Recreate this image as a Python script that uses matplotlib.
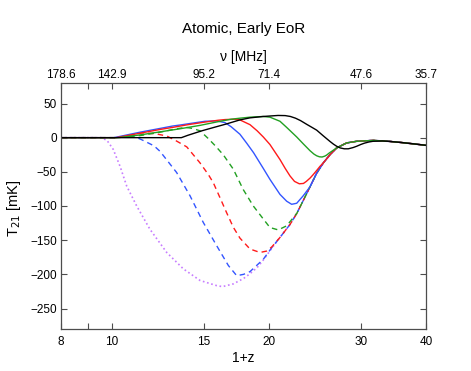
import matplotlib
matplotlib.use('Agg')
import matplotlib.pyplot as plt
from matplotlib.ticker import FixedLocator, FixedFormatter, NullLocator

plt.rcParams['font.family'] = ['Liberation Sans', 'DejaVu Sans']

# eje inferior (1+z) y eje superior (frecuencia)
xticks = [8, 9, 10, 15, 20, 30, 40]
xticklabels = ['8', '', '10', '15', '20', '30', '40']
nu_labels = ['178.6', '', '142.9', '95.2', '71.4', '47.6', '35.7']
yticks = [-250, -200, -150, -100, -50, 0, 50]

# cola comun a todas las curvas de color
tail_z = [21.01, 21.96, 22.62, 23.28, 23.98, 24.7, 25.43, 26.19, 26.98, 28.19, 29.46, 31.7, 34.1, 36.0, 38.0, 40.0]
tail_T = [-146, -127, -111, -92, -72, -52, -37, -25, -15, -7.7, -5.3, -4, -5.5, -7.2, -9.2, -11.2]

# negro continuo
black_z = [8, 13.6, 14.0, 14.88, 15.7, 16.49, 17.61, 18.41, 19.5, 20.83, 21.5, 22.0, 22.5, 23.0, 23.64,
           24.2, 24.7, 25.4, 26.19, 26.6, 26.98, 27.4, 27.9, 28.4, 29.0, 29.46, 30.0, 30.5, 31.1, 31.66,
           33.0, 34.1, 36.0, 38.0, 40.0]
black_T = [0, 0, 3.5, 10, 15, 19.5, 26, 29, 31, 32.5, 32.3, 31, 28.5, 25, 19.5,
           15, 11, 3, -5.5, -9.5, -12.6, -15, -16.3, -16.3, -14.5, -12.6, -10, -8, -6.3, -5.3,
           -4.8, -5.5, -7.2, -9.2, -11.2]

# verde continuo
green_z = [8, 10.3, 11.33, 12.38, 13.52, 14.77, 15.9, 16.94, 17.61, 18.41, 19.5, 20.1, 21.01, 21.64, 22.62,
           23.28, 23.98, 24.4, 24.7, 25.0, 25.3, 25.6, 25.81, 26.1, 26.39]
green_T = [0, 0, 4, 8.5, 13, 18, 23, 27, 28.5, 30, 31, 30, 24, 15, 1,
           -9, -19, -24, -26.5, -28, -28.3, -27, -25.5, -22.5, -20]

# rojo continuo
red_z = [8, 10.2, 11.33, 12.38, 13.08, 14.0, 15.0, 16.0, 16.49, 17.2, 17.61, 18.41, 19.0, 19.52, 20.1,
         21.01, 21.5, 21.96, 22.4, 22.88, 23.3, 23.6, 24.0, 24.33, 24.7, 25.06]
red_T = [0, 0, 6.5, 12, 15, 19, 22.5, 25.5, 26.5, 27, 26, 19, 10, 1, -10,
         -32, -45, -56, -64, -67.5, -67, -64, -59, -54, -48, -42]

# azul continuo
blue_z = [8, 10.1, 11.33, 12.38, 13.08, 13.52, 14.5, 15.1, 15.9, 16.49, 16.94, 17.61, 18.14, 18.7, 19.52,
          20.1, 21.01, 21.64, 22.12, 22.62, 23.28]
blue_T = [0, 0, 8, 13.5, 17, 18.5, 22, 24, 24.5, 22, 16, 5, -8, -22, -45,
          -61, -83, -93, -97.5, -96, -85]

# verde discontinuo
green_d_z = [8, 10.2, 11.33, 12.38, 13.3, 13.9, 14.3, 14.77, 15.3, 15.8, 16.36, 17.1, 17.87, 18.68, 19.52,
             20.1, 20.85, 21.64, 22.28]
green_d_T = [0, 0, 3, 8, 13, 15, 13.5, 10, -1, -12, -25, -46, -76, -100, -119,
             -131.5, -135, -129, -117]

# rojo discontinuo
red_d_z = [8, 10.2, 11.0, 11.42, 12.11, 12.75, 13.32, 13.93, 14.77, 15.32, 15.66, 16.13, 16.61, 17.1, 17.61,
           18.41, 19.24, 19.8, 20.26]
red_d_T = [0, 0, 4, 7, 5.8, 2.5, -5, -13.5, -37, -54, -66, -88, -110, -131, -147,
           -163, -168, -166, -160]

# azul discontinuo
blue_d_z = [8, 10.2, 10.7, 11.1, 11.42, 12.06, 12.38, 13.32, 14.13, 14.98, 15.89, 16.73, 17.36, 17.9, 18.41,
            19.52, 20.26]
blue_d_T = [0, 0, 1.5, 1, -3, -12, -20, -51, -85, -124, -158, -187, -202, -200, -196,
            -178, -161]

# violeta punteado
violet_z = [8, 9.55, 9.8, 10.07, 10.38, 10.69, 11.17, 11.84, 12.75, 13.72, 14.77, 15.89, 16.3, 17.1, 17.9,
            18.41, 19.0, 19.52, 20.26]
violet_T = [0, 0, -4, -17, -42, -71, -100, -134, -168, -192, -209, -216.5, -218, -214, -206,
            -199, -190, -179, -162]


def con_cola(z, T):
    zz = list(z)
    TT = list(T)
    for a, b in zip(tail_z, tail_T):
        if a > zz[-1]:
            zz.append(a)
            TT.append(b)
    return zz, TT


fig = plt.figure(figsize=(4.71, 3.71), dpi=100)
ax = fig.add_axes([61 / 471, 1 - 329 / 371, 365 / 471, 246 / 371])

lw = 1.0
dash = (0, (4, 3))
ax.plot(*con_cola(violet_z, violet_T), color='#c77dff', lw=1.2, linestyle=(0, (1, 1.6)))
ax.plot(*con_cola(blue_d_z, blue_d_T), color='#3355ff', lw=lw, linestyle=dash)
ax.plot(*con_cola(red_d_z, red_d_T), color='#ff1a1a', lw=lw, linestyle=dash)
ax.plot(*con_cola(green_d_z, green_d_T), color='#22a022', lw=lw, linestyle=dash)
ax.plot(*con_cola(blue_z, blue_T), color='#3355ff', lw=lw)
ax.plot(*con_cola(red_z, red_T), color='#ff1a1a', lw=lw)
ax.plot(*con_cola(green_z, green_T), color='#22a022', lw=lw)
ax.plot(black_z, black_T, color='black', lw=lw)

ax.set_xscale('log')
ax.set_xlim(8, 40)
ax.set_ylim(-280, 80)
ax.xaxis.set_major_locator(FixedLocator(xticks))
ax.xaxis.set_major_formatter(FixedFormatter(xticklabels))
ax.xaxis.set_minor_locator(NullLocator())
ax.set_yticks(yticks)
ax.tick_params(direction='in', length=4, width=0.8, color='0.3', labelsize=8.5, pad=3,
               right=True)
ax.tick_params(axis='x', pad=5)
for s in ax.spines.values():
    s.set_color('0.3')
    s.set_linewidth(0.9)

ax.set_xlabel('1+z', fontsize=10)
ax.xaxis.set_label_coords(0.5, -0.088)
ax.set_ylabel('T$_{21}$ [mK]', fontsize=10.5)
ax.yaxis.set_label_coords(-0.105, 0.49)

# eje superior en MHz
ax2 = ax.twiny()
ax2.set_xscale('log')
ax2.set_xlim(8, 40)
ax2.xaxis.set_major_locator(FixedLocator(xticks))
ax2.xaxis.set_major_formatter(FixedFormatter(nu_labels))
ax2.xaxis.set_minor_locator(NullLocator())
ax2.tick_params(direction='in', length=4, width=0.8, color='0.3', labelsize=8.5, pad=1.5)
for s in ax2.spines.values():
    s.set_visible(False)
ax2.set_xlabel('ν [MHz]', fontsize=10, labelpad=6)

fig.text(243.5 / 471, 1 - 29 / 371, 'Atomic, Early EoR', fontsize=11, ha='center', va='center')

plt.savefig('out.png', dpi=100)
